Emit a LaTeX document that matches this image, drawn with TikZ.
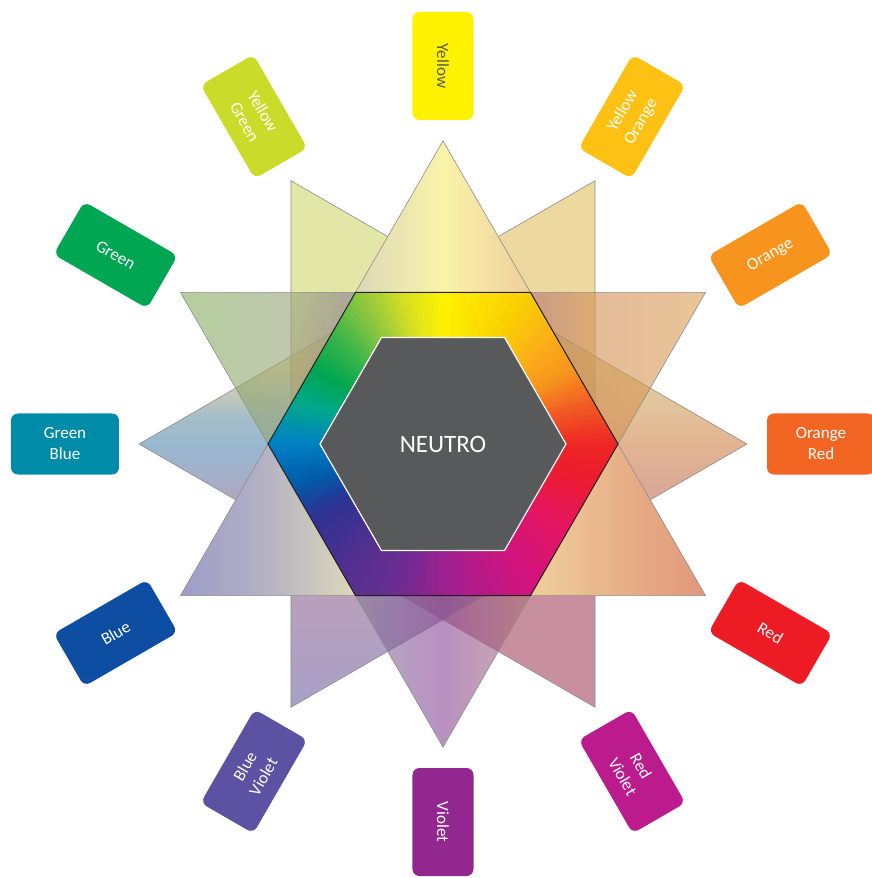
\documentclass[tikz,border=0pt]{standalone}
\usepackage{fontspec}
\setmainfont{Carlito}
% edges and centre
\definecolor{edgegray}{HTML}{8C8C8C}
\definecolor{hexline}{HTML}{231F20}
\definecolor{neutral}{HTML}{58595B}
% label colours
\definecolor{LY}{HTML}{FFF200}
\definecolor{LYt}{HTML}{58595B}
\definecolor{LYO}{HTML}{FDC113}
\definecolor{LO}{HTML}{F7941D}
\definecolor{LOR}{HTML}{F26522}
\definecolor{LR}{HTML}{ED1C24}
\definecolor{LRV}{HTML}{BC1B8D}
\definecolor{LV}{HTML}{92278F}
\definecolor{LBV}{HTML}{5B52A3}
\definecolor{LB}{HTML}{0D4EA2}
\definecolor{LGB}{HTML}{008CA8}
\definecolor{LG}{HTML}{00A651}
\definecolor{LYG}{HTML}{CBDB2A}
% T1 (opaque, horizontal)
\definecolor{Ta}{HTML}{9C9CC9}
\definecolor{Tb}{HTML}{B4B2C4}
\definecolor{Tc}{HTML}{DCD8B8}
\definecolor{Td}{HTML}{F9F3A9}
\definecolor{Te}{HTML}{EFCF9C}
\definecolor{Tf}{HTML}{E8B088}
\definecolor{Tg}{HTML}{E0987A}
% T2 (transparent, horizontal)
\definecolor{Ua}{HTML}{84AD5D}
\definecolor{Ub}{HTML}{96A37B}
\definecolor{Uc}{HTML}{82699B}
\definecolor{Ud}{HTML}{894696}
\definecolor{Ue}{HTML}{A36782}
\definecolor{Uf}{HTML}{D28F53}
\definecolor{Ug}{HTML}{D99E53}
% T3 (transparent, vertical)
\definecolor{Va}{HTML}{A3465F}
\definecolor{Vb}{HTML}{7B6B96}
\definecolor{Vc}{HTML}{5389B1}
\definecolor{Vd}{HTML}{6E93A3}
\definecolor{Ve}{HTML}{E1BE61}
% T4 (transparent, vertical)
\definecolor{Wa}{HTML}{6E61A3}
\definecolor{Wb}{HTML}{89618F}
\definecolor{Wc}{HTML}{C06E53}
\definecolor{Wd}{HTML}{CF8249}
\definecolor{We}{HTML}{CF9D5A}
\definecolor{Wf}{HTML}{CFD76E}
% colour wheel
\definecolor{c01}{HTML}{0080C4}
\definecolor{c02}{HTML}{005BAA}
\definecolor{c03}{HTML}{2E3192}
\definecolor{c04}{HTML}{55308F}
\definecolor{c05}{HTML}{662D91}
\definecolor{c06}{HTML}{9B2190}
\definecolor{c07}{HTML}{CF137F}
\definecolor{c08}{HTML}{E41562}
\definecolor{c09}{HTML}{EC1C2E}
\definecolor{c10}{HTML}{EE2624}
\definecolor{c11}{HTML}{F15A24}
\definecolor{c12}{HTML}{F7941D}
\definecolor{c13}{HTML}{FBB417}
\definecolor{c14}{HTML}{FAD000}
\definecolor{c15}{HTML}{FFF200}
\definecolor{c16}{HTML}{D7E021}
\definecolor{c17}{HTML}{8DC63F}
\definecolor{c18}{HTML}{39B54A}
\definecolor{c19}{HTML}{00A651}
\definecolor{c20}{HTML}{00A78E}
\pgfdeclarehorizontalshading{tone}{100bp}{color(0bp)=(Ta); color(25bp)=(Ta); color(33.05bp)=(Tb); color(41.6bp)=(Tc); color(50bp)=(Td); color(58.3bp)=(Te); color(66.9bp)=(Tf); color(75bp)=(Tg); color(100bp)=(Tg)}
\pgfdeclarehorizontalshading{ttwo}{100bp}{color(0bp)=(Ua); color(25bp)=(Ua); color(35.7bp)=(Ub); color(44.3bp)=(Uc); color(50bp)=(Ud); color(55.7bp)=(Ue); color(64.3bp)=(Uf); color(75bp)=(Ug); color(100bp)=(Ug)}
\pgfdeclareverticalshading{tthree}{100bp}{color(0bp)=(Va); color(25bp)=(Va); color(37.7bp)=(Va); color(44.3bp)=(Vb); color(50bp)=(Vc); color(52.8bp)=(Vd); color(57.6bp)=(Ve); color(75bp)=(Ve); color(100bp)=(Ve)}
\pgfdeclareverticalshading{tfour}{100bp}{color(0bp)=(Wa); color(25bp)=(Wa); color(35.2bp)=(Wb); color(45.3bp)=(Wc); color(50bp)=(Wd); color(53.8bp)=(We); color(64.2bp)=(Wf); color(75bp)=(Wf); color(100bp)=(Wf)}
\tikzset{
  edge/.style={draw=edgegray, line width=0.6pt},
  lbl/.style={rounded corners=7pt, minimum width=108pt, minimum height=61pt,
    inner sep=0pt, align=center, text=white, font=\fontsize{17}{21}\selectfont}
}
\begin{document}
\begin{tikzpicture}[x=1pt,y=1pt]
\useasboundingbox (-443,-434) rectangle (428,444);
% star B (transparent)
\shadedraw[shading=tthree, fill opacity=0.6, edge] (60:304) -- (180:304) -- (300:304) -- cycle;
\shadedraw[shading=tfour, fill opacity=0.6, edge] (120:304) -- (0:304) -- (240:304) -- cycle;
% star A
\shadedraw[shading=ttwo, fill opacity=0.6, edge] (270:303.1) -- (30:303.1) -- (150:303.1) -- cycle;
\shadedraw[shading=tone, edge] (90:303.1) -- (210:303.1) -- (330:303.1) -- cycle;
% colour wheel hexagon
\begin{scope}
\clip (0:175) -- (60:175) -- (120:175) -- (180:175) -- (240:175) -- (300:175) -- cycle;
\foreach \sa/\sb/\ca/\cb in {-180/-165/c01/c02, -165/-150/c02/c03, -150/-125/c03/c04,
  -125/-110/c04/c05, -110/-90/c05/c06, -90/-60/c06/c07, -60/-35/c07/c08, -35/-12/c08/c09,
  -12/0/c09/c10, 0/15/c10/c11, 15/30/c11/c12, 30/48/c12/c13, 48/62/c13/c14, 62/90/c14/c15,
  90/105/c15/c16, 105/120/c16/c17, 120/135/c17/c18, 135/150/c18/c19, 150/165/c19/c20,
  165/180/c20/c01}{
  \foreach \k in {0,...,7}{
    \pgfmathsetmacro\ta{\sa+(\sb-\sa)*\k/8}
    \pgfmathsetmacro\tb{\sa+(\sb-\sa)*(\k+1)/8+0.5}
    \pgfmathtruncatemacro\pp{100-(\k+0.5)*12.5}
    \fill[fill=\ca!\pp!\cb] (0,0) -- (\ta:200) -- (\tb:200) -- cycle;
  }
}
\end{scope}
\draw[draw=hexline, line width=1pt] (0:175) -- (60:175) -- (120:175) -- (180:175) -- (240:175) -- (300:175) -- cycle;
\filldraw[fill=neutral, draw=white, line width=1.2pt] (0:123) -- (60:123) -- (120:123) -- (180:123) -- (240:123) -- (300:123) -- cycle;
\node[text=white, font=\fontsize{25}{30}\selectfont] (neutro) at (0,0) {NEUTRO};
% labels
\node[lbl, fill=LY, text=LYt, rotate=-90] (y) at (90:378) {Yellow};
\node[lbl, fill=LYO, rotate=60] (yo) at (60:378) {Yellow\\Orange};
\node[lbl, fill=LO, rotate=30] (o) at (30:378) {Orange};
\node[lbl, fill=LOR, rotate=0] (or) at (0:378) {Orange\\Red};
\node[lbl, fill=LR, rotate=-30] (r) at (-30:378) {Red};
\node[lbl, fill=LRV, rotate=-60] (rv) at (-60:378) {Red\\Violet};
\node[lbl, fill=LV, rotate=-90] (v) at (-90:378) {Violet};
\node[lbl, fill=LBV, rotate=60] (bv) at (-120:378) {Blue\\Violet};
\node[lbl, fill=LB, rotate=30] (b) at (-150:378) {Blue};
\node[lbl, fill=LGB, rotate=0] (gb) at (180:378) {Green\\Blue};
\node[lbl, fill=LG, rotate=-30] (g) at (150:378) {Green};
\node[lbl, fill=LYG, rotate=-60] (yg) at (120:378) {Yellow\\Green};
\end{tikzpicture}
\end{document}
